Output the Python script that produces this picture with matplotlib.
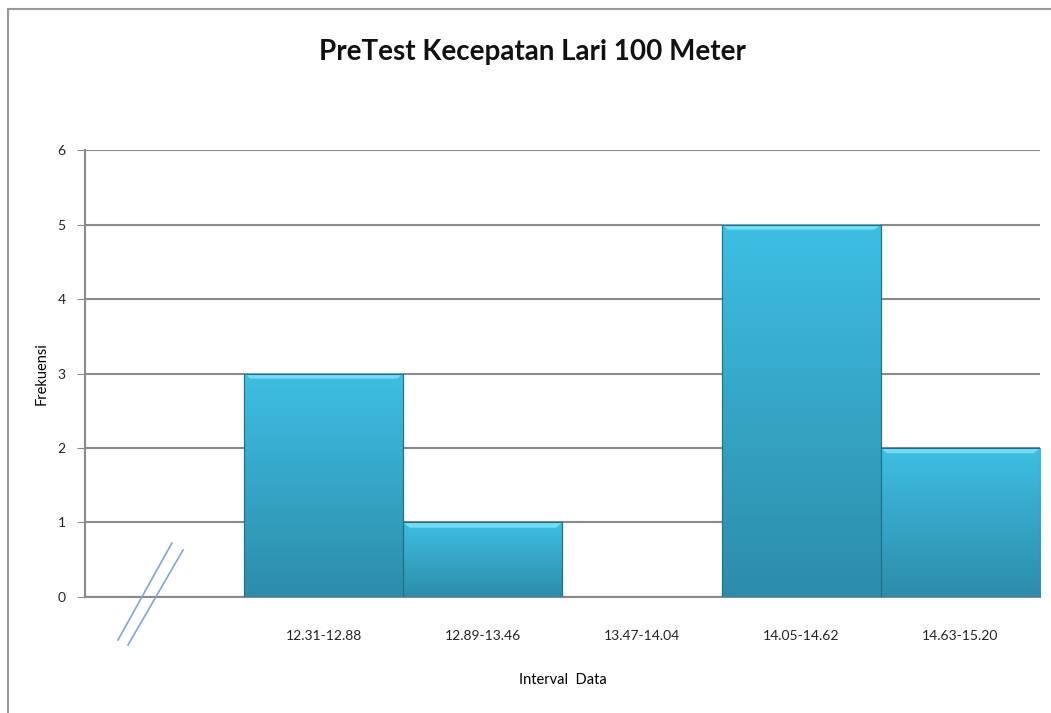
import matplotlib.pyplot as plt
import numpy as np
from matplotlib.colors import LinearSegmentedColormap
from matplotlib.lines import Line2D

plt.rcParams['font.family'] = ['Lato', 'DejaVu Sans']

categories = ['', '12.31-12.88', '12.89-13.46', '13.47-14.04', '14.05-14.62', '14.63-15.20']
frekuensi = [0, 3, 1, 0, 5, 2]

fig = plt.figure(figsize=(10.51, 7.13), dpi=100)
ax = fig.add_axes([0.0809, 0.1627, 0.9086, 0.6269])

x = np.arange(len(categories))
bars = ax.bar(x, frekuensi, width=1.0, color='#38b0d6', edgecolor='#1f6f88', linewidth=0.8, zorder=3)

# vertical gradient inside each bar
cmap = LinearSegmentedColormap.from_list('bar', ['#2d8caa', '#3dbfe3'])
grad = np.linspace(0, 1, 256).reshape(-1, 1)
for b, v in zip(bars, frekuensi):
    if v == 0:
        continue
    x0 = b.get_x()
    w = b.get_width()
    im = ax.imshow(grad, extent=[x0, x0 + w, 0, v], origin='lower', cmap=cmap,
                   aspect='auto', zorder=3.5)
    im.set_clip_path(b)
    # light bevel on top
    ax.fill([x0, x0 + w, x0 + w - 0.04, x0 + 0.04], [v, v, v - 0.07, v - 0.07],
            color='#74dcf3', zorder=4, lw=0)
    ax.plot([x0, x0, x0 + w, x0 + w], [0, v, v, 0], color='#1f6f88', lw=0.8, zorder=5)

ax.set_xlim(-0.5, 5.5)
ax.set_ylim(0, 6)
ax.set_yticks(range(7))
ax.set_xticks(x)
ax.set_xticklabels(categories, fontsize=10, color='#222222')
ax.tick_params(axis='x', length=0, pad=24)
ax.tick_params(axis='y', length=6, color='#888888', labelsize=10, pad=8, labelcolor='#222222')
ax.yaxis.grid(True, color='#8a8a8a', lw=1.5, zorder=1)
ax.set_axisbelow(True)
for s in ['top', 'right']:
    ax.spines[s].set_visible(False)
for s in ['left', 'bottom']:
    ax.spines[s].set_color('#8a8a8a')
    ax.spines[s].set_linewidth(1.5)

ax.set_ylabel('Frekuensi', fontsize=10.5, labelpad=6)
ax.set_xlabel('Interval  Data', fontsize=10.5, labelpad=22)
fig.text(0.507, 0.927, 'PreTest Kecepatan Lari 100 Meter', ha='center', va='center',
         fontsize=20, fontweight='bold', color='#111111')

# axis break marks
ax.plot([-0.293, 0.046], [-0.577, 0.725], color='#7fa6d6', lw=1.2, clip_on=False, zorder=6)
ax.plot([-0.23, 0.116], [-0.644, 0.631], color='#7fa6d6', lw=1.2, clip_on=False, zorder=6)

# outer chart border
fig.add_artist(Line2D([8 / 1051, 8 / 1051], [0, 1 - 9 / 713], color='#999999', lw=1.5))
fig.add_artist(Line2D([8 / 1051, 1], [1 - 9 / 713, 1 - 9 / 713], color='#999999', lw=1.5))

fig.savefig('out.png', dpi=100)
